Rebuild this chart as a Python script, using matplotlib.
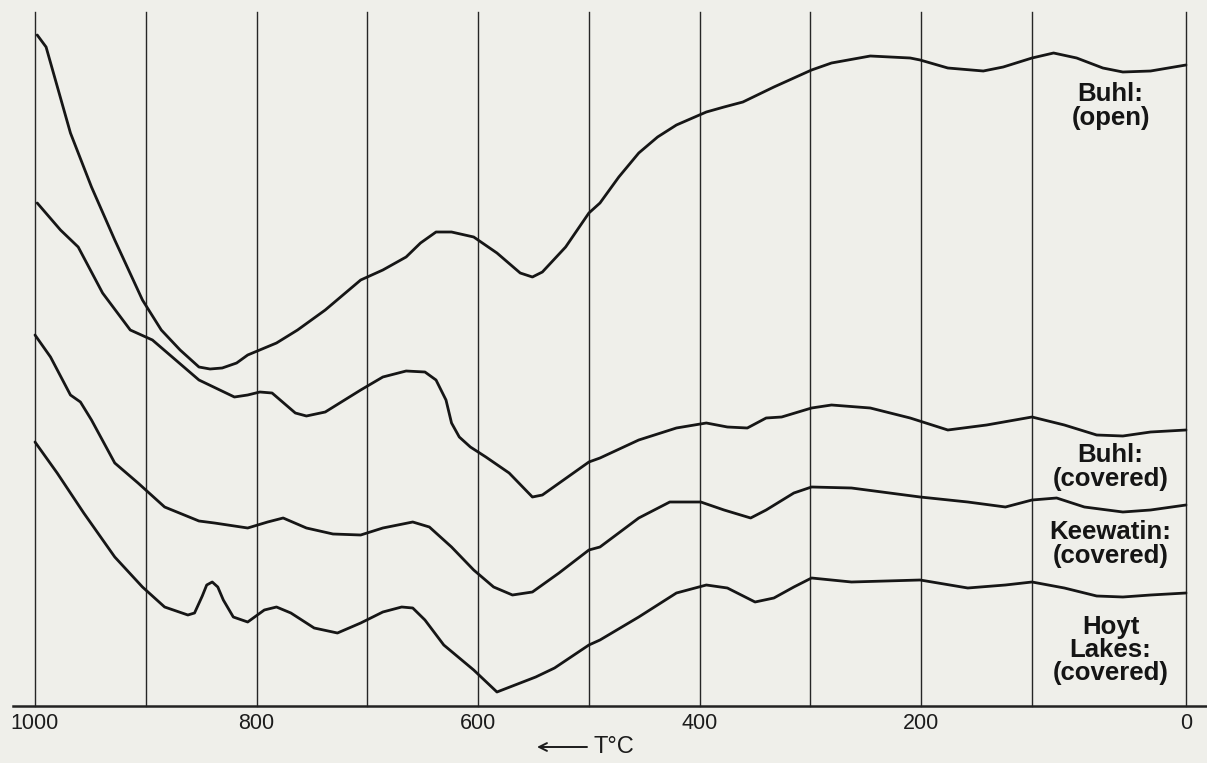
import numpy as np
import matplotlib
matplotlib.use("Agg")
import matplotlib.pyplot as plt

# ---- data (temperature in °C, relative signal in arbitrary units) ----
buhl_open_T = [998, 990, 968, 949, 928, 903, 886, 869, 852, 842, 831, 818, 808, 782, 763,
               738, 706, 686, 665, 652, 638, 624, 604, 583, 562, 551, 542, 521, 500, 490,
               473, 455, 438, 421, 394, 378, 361, 333, 299, 281, 246, 210, 201, 176, 144,
               126, 100, 86, 71, 54, 41, 23, 0]
buhl_open_v = [67.1, 65.9, 57.3, 51.9, 46.6, 40.6, 37.6, 35.6, 33.9, 33.7, 33.8, 34.3, 35.1, 36.3, 37.6,
               39.6, 42.6, 43.6, 44.9, 46.3, 47.4, 47.4, 46.9, 45.3, 43.3, 42.9, 43.4, 45.9, 49.3, 50.3,
               52.9, 55.3, 56.9, 58.1, 59.4, 59.9, 60.4, 61.9, 63.6, 64.3, 65.0, 64.8, 64.6, 63.8, 63.5,
               63.9, 64.8, 65.3, 64.8, 63.8, 63.4, 63.5, 64.1]

buhl_cov_T = [998, 977, 961, 939, 914, 894, 852, 820, 808, 797, 786, 765, 755, 738, 706,
              686, 665, 648, 638, 629, 624, 617, 607, 593, 572, 551, 542, 500, 490, 455,
              421, 394, 375, 357, 340, 326, 299, 281, 246, 210, 176, 141, 100, 79, 58,
              41, 23, 0]
buhl_cov_v = [50.3, 47.6, 45.9, 41.3, 37.6, 36.6, 32.6, 30.9, 31.1, 31.4, 31.3, 29.3, 29.0, 29.4, 31.6,
              32.9, 33.5, 33.4, 32.6, 30.6, 28.3, 26.9, 25.9, 24.9, 23.3, 20.9, 21.1, 24.4, 24.8, 26.6,
              27.8, 28.3, 27.9, 27.8, 28.8, 28.9, 29.8, 30.1, 29.8, 28.8, 27.6, 28.1, 28.9, 28.1, 27.1,
              27.0, 27.4, 27.6]

keewatin_T = [1000, 986, 968, 959, 949, 928, 907, 883, 852, 838, 808, 790, 776, 755, 731,
              706, 686, 659, 644, 624, 604, 586, 569, 551, 527, 500, 490, 455, 427, 399,
              378, 354, 340, 315, 299, 263, 201, 158, 124, 100, 84, 66, 41, 23, 0]
keewatin_v = [37.1, 34.9, 31.1, 30.4, 28.6, 24.3, 22.3, 19.9, 18.5, 18.3, 17.8, 18.4, 18.8, 17.8, 17.2,
              17.1, 17.8, 18.4, 17.9, 15.9, 13.6, 11.9, 11.1, 11.4, 13.3, 15.6, 15.9, 18.8, 20.4, 20.4,
              19.6, 18.8, 19.6, 21.3, 21.9, 21.8, 20.9, 20.4, 19.9, 20.6, 20.8, 19.9, 19.4, 19.6, 20.1]

hoyt_T = [1000, 980, 956, 928, 903, 883, 862, 856, 849, 845, 840, 835, 830, 821, 808,
          793, 782, 769, 748, 727, 706, 686, 669, 659, 648, 631, 604, 583, 548, 531,
          500, 490, 455, 421, 394, 375, 350, 333, 315, 299, 263, 201, 158, 124, 100,
          79, 58, 41, 23, 0]
hoyt_v = [26.4, 23.3, 19.3, 14.9, 11.9, 9.9, 9.1, 9.3, 11.0, 12.1, 12.4, 11.9, 10.6, 8.9, 8.4,
          9.6, 9.9, 9.3, 7.8, 7.3, 8.3, 9.4, 9.9, 9.8, 8.6, 6.1, 3.6, 1.4, 2.9, 3.8,
          6.1, 6.6, 8.9, 11.3, 12.1, 11.8, 10.4, 10.8, 11.9, 12.8, 12.4, 12.6, 11.8, 12.1, 12.4,
          11.8, 11.0, 10.9, 11.1, 11.3]

grid_T = [1000, 900, 800, 700, 600, 500, 400, 300, 200, 100, 0]
tick_T = [1000, 800, 600, 400, 200, 0]
tick_labels = ["1000", "800", "600", "400", "200", "0"]

labels = ["Buhl:\n(open)", "Buhl:\n(covered)", "Keewatin:\n(covered)", "Hoyt\nLakes:\n(covered)"]
label_y = [60.0, 23.9, 16.2, 5.6]
label_T = 49

# ---- figure ----
W, H = 1207, 763
bg = "#efefea"
fig = plt.figure(figsize=(W / 100, H / 100), dpi=100, facecolor=bg)
ax = fig.add_axes([35 / W, (H - 706) / H, (1186 - 35) / W, (706 - 12) / H])
ax.set_facecolor(bg)

K = 1.39  # stretch of the last (100 -> 0) interval

def fwd(t):
    t = np.asarray(t, dtype=float)
    return np.where(t >= 100, t, 100 - (100 - t) * K)

def inv(u):
    u = np.asarray(u, dtype=float)
    return np.where(u >= 100, u, 100 - (100 - u) / K)

ax.set_xscale("function", functions=(fwd, inv))
ax.set_xlim(1000, 0)
ax.set_ylim(0, 69.4)

for t in grid_T:
    ax.axvline(t, color="#262626", lw=1.0, zorder=1, clip_on=False)

ink = "#161616"
for T, v in [(buhl_open_T, buhl_open_v), (buhl_cov_T, buhl_cov_v),
             (keewatin_T, keewatin_v), (hoyt_T, hoyt_v)]:
    ax.plot(T, v, color=ink, lw=2.0, solid_joinstyle="round", solid_capstyle="round",
            zorder=3, clip_on=False)

for txt, y in zip(labels, label_y):
    ax.text(label_T, y, txt, ha="center", va="center", fontsize=18.5,
            fontweight="bold", family="Liberation Sans", color="#151515",
            linespacing=0.95, zorder=4)

# axis
for s in ax.spines.values():
    s.set_visible(False)
ax.axhline(0, xmin=-22 / 1151, xmax=1.02, color="#222222", lw=1.8, clip_on=False, zorder=2)
ax.set_yticks([])
ax.set_xticks(tick_T)
ax.set_xticklabels(tick_labels, family="Liberation Sans", fontsize=15.5, color="#1c1c1c")
ax.xaxis.set_minor_locator(matplotlib.ticker.NullLocator())
ax.tick_params(axis="x", length=0, pad=5)

# T°C arrow label
fig.text(593 / W, 1 - 747 / H, "T°C", ha="left", va="center", fontsize=17,
         family="Liberation Sans", color="#1c1c1c")
ax.annotate("", xy=(537 / W, 1 - 747 / H), xytext=(587 / W, 1 - 747 / H),
            xycoords="figure fraction", textcoords="figure fraction",
            arrowprops=dict(arrowstyle="->", lw=1.4, color="#1c1c1c",
                            shrinkA=0, shrinkB=0, mutation_scale=14))

fig.savefig("out.png", dpi=100, facecolor=bg)
